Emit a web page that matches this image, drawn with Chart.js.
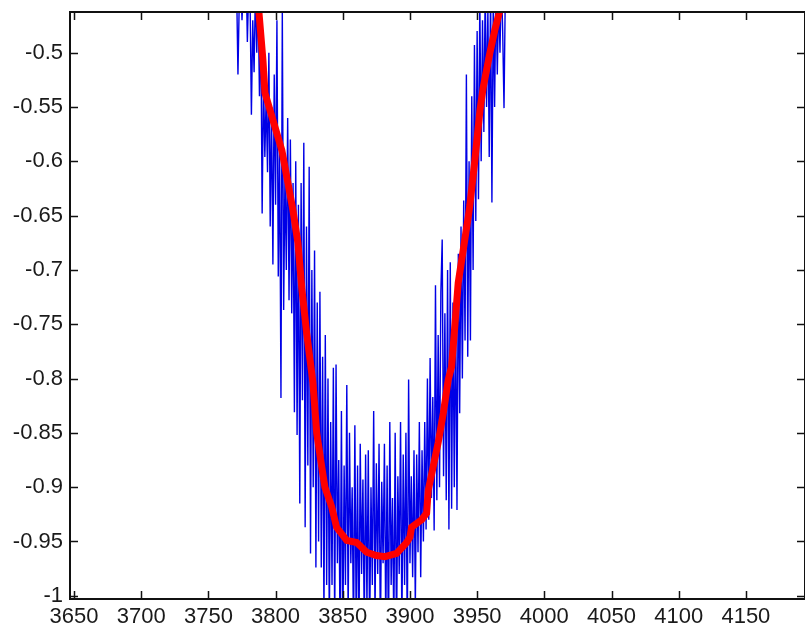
<!DOCTYPE html>
<html>
<head>
<meta charset="utf-8">
<script src="https://cdn.jsdelivr.net/npm/chart.js@4.4.1/dist/chart.umd.min.js"></script>
<style>
  body { margin: 0; background: #fff; }
  canvas { display: block; }
</style>
</head>
<body>
<canvas id="grafico" width="805" height="631"></canvas>
<script>
// noisy signal (blue), one sample per unit
const sinalX = [
  3771, 3772, 3773, 3774, 3775, 3776, 3777, 3778, 3779, 3780,
  3781, 3782, 3783, 3784, 3785, 3786, 3787, 3788, 3789, 3790,
  3791, 3792, 3793, 3794, 3795, 3796, 3797, 3798, 3799, 3800,
  3801, 3802, 3803, 3804, 3805, 3806, 3807, 3808, 3809, 3810,
  3811, 3812, 3813, 3814, 3815, 3816, 3817, 3818, 3819, 3820,
  3821, 3822, 3823, 3824, 3825, 3826, 3827, 3828, 3829, 3830,
  3831, 3832, 3833, 3834, 3835, 3836, 3837, 3838, 3839, 3840,
  3841, 3842, 3843, 3844, 3845, 3846, 3847, 3848, 3849, 3850,
  3851, 3852, 3853, 3854, 3855, 3856, 3857, 3858, 3859, 3860,
  3861, 3862, 3863, 3864, 3865, 3866, 3867, 3868, 3869, 3870,
  3871, 3872, 3873, 3874, 3875, 3876, 3877, 3878, 3879, 3880,
  3881, 3882, 3883, 3884, 3885, 3886, 3887, 3888, 3889, 3890,
  3891, 3892, 3893, 3894, 3895, 3896, 3897, 3898, 3899, 3900,
  3901, 3902, 3903, 3904, 3905, 3906, 3907, 3908, 3909, 3910,
  3911, 3912, 3913, 3914, 3915, 3916, 3917, 3918, 3919, 3920,
  3921, 3922, 3923, 3924, 3925, 3926, 3927, 3928, 3929, 3930,
  3931, 3932, 3933, 3934, 3935, 3936, 3937, 3938, 3939, 3940,
  3941, 3942, 3943, 3944, 3945, 3946, 3947, 3948, 3949, 3950,
  3951, 3952, 3953, 3954, 3955, 3956, 3957, 3958, 3959, 3960,
  3961, 3962, 3963, 3964, 3965, 3966, 3967, 3968, 3969, 3970,
  3971, 3972
];
const sinalY = [
  -0.44, -0.52, -0.45, -0.43, -0.47, -0.44, -0.46, -0.42, -0.49, -0.44,
  -0.45, -0.557, -0.47, -0.518, -0.44, -0.50, -0.45, -0.54, -0.47, -0.648,
  -0.52, -0.596, -0.54, -0.61, -0.50, -0.66, -0.55, -0.695, -0.52, -0.64,
  -0.47, -0.706, -0.58, -0.818, -0.46, -0.737, -0.61, -0.70, -0.56, -0.728,
  -0.58, -0.74, -0.62, -0.831, -0.60, -0.852, -0.64, -0.915, -0.62, -0.82,
  -0.583, -0.937, -0.66, -0.88, -0.605, -0.961, -0.70, -0.90, -0.682, -0.974,
  -0.73, -0.95, -0.72, -0.974, -0.78, -1.02, -0.76, -0.99, -0.80, -1.03,
  -0.84, -0.99, -0.79, -1.03, -0.787, -0.97, -0.875, -1.04, -0.83, -1.05,
  -0.88, -0.99, -0.806, -1.02, -0.85, -0.97, -0.90, -1.04, -0.843, -1.03,
  -0.88, -1.05, -0.86, -0.98, -0.893, -1.03, -0.87, -1.01, -0.866, -1.04,
  -0.90, -0.99, -0.83, -1.02, -0.878, -0.98, -0.86, -1.04, -0.895, -0.97,
  -0.86, -1.03, -0.88, -1.05, -0.84, -0.99, -0.91, -1.03, -0.85, -1.04,
  -0.89, -0.98, -0.84, -1.03, -0.87, -0.99, -0.85, -1.04, -0.801, -0.97,
  -0.89, -0.983, -0.866, -1.01, -0.87, -0.96, -0.84, -0.983, -0.866, -0.95,
  -0.84, -0.939, -0.80, -0.93, -0.781, -0.91, -0.817, -0.94, -0.714, -0.912,
  -0.76, -0.90, -0.72, -0.672, -0.89, -0.74, -0.912, -0.70, -0.939, -0.693,
  -0.92, -0.73, -0.90, -0.728, -0.921, -0.685, -0.832, -0.66, -0.80, -0.636,
  -0.765, -0.52, -0.78, -0.60, -0.765, -0.54, -0.70, -0.493, -0.655, -0.48,
  -0.635, -0.45, -0.60, -0.47, -0.573, -0.44, -0.55, -0.46, -0.596, -0.44,
  -0.638, -0.45, -0.55, -0.44, -0.52, -0.45, -0.50, -0.43, -0.48, -0.551,
  -0.44, -0.43
];

// smoothed signal (red)
const suaveX = [
  3784, 3787.6, 3790.6, 3792.1, 3798, 3804.7, 3809.2, 3812.9, 3816.6, 3819.5,
  3823.1, 3827.8, 3830.6, 3834.3, 3836.7, 3841.7, 3845.4, 3852.9, 3860.3, 3867.8,
  3875, 3881.4, 3890.1, 3897.5, 3900, 3901.2, 3908.7, 3912.4, 3913.6, 3917.3,
  3921, 3924.8, 3928.5, 3931, 3933.5, 3935.9, 3939.6, 3943.4, 3944.6, 3948.3,
  3952.1, 3954.5, 3959.5, 3963.2, 3966.9, 3970
];
const suaveY = [
  -0.42, -0.4625, -0.507, -0.537, -0.562, -0.590, -0.620, -0.645, -0.675, -0.717,
  -0.758, -0.804, -0.850, -0.881, -0.900, -0.918, -0.937, -0.949, -0.951, -0.960,
  -0.963, -0.964, -0.961, -0.951, -0.946, -0.937, -0.930, -0.924, -0.903, -0.881,
  -0.859, -0.832, -0.801, -0.789, -0.750, -0.712, -0.682, -0.651, -0.640, -0.599,
  -0.553, -0.532, -0.500, -0.479, -0.461, -0.43
];

const ticksX = [3650, 3700, 3750, 3800, 3850, 3900, 3950, 4000, 4050, 4100, 4150];
const ticksY = [-1, -0.95, -0.9, -0.85, -0.8, -0.75, -0.7, -0.65, -0.6, -0.55, -0.5];

function juntaPontos(xs, ys) {
  return xs.map((x, i) => ({ x: x, y: ys[i] }));
}

// caixa preta e marcas para dentro, estilo matlab
const caixaPlugin = {
  id: 'caixa',
  afterDraw(chart) {
    const ctx = chart.ctx;
    const a = chart.chartArea;
    const sx = chart.scales.x;
    const sy = chart.scales.y;
    const tam = 8;
    ctx.save();
    ctx.strokeStyle = '#111';
    ctx.lineWidth = 2;
    ctx.strokeRect(a.left, a.top, a.right - a.left, a.bottom - a.top);
    ctx.lineWidth = 1.5;
    ctx.beginPath();
    sx.ticks.forEach((t) => {
      const px = Math.round(sx.getPixelForValue(t.value)) + 0.5;
      ctx.moveTo(px, a.bottom);
      ctx.lineTo(px, a.bottom - tam);
      ctx.moveTo(px, a.top);
      ctx.lineTo(px, a.top + tam);
    });
    sy.ticks.forEach((t) => {
      const py = Math.round(sy.getPixelForValue(t.value)) + 0.5;
      ctx.moveTo(a.left, py);
      ctx.lineTo(a.left + tam, py);
      ctx.moveTo(a.right, py);
      ctx.lineTo(a.right - tam, py);
    });
    ctx.stroke();
    ctx.restore();
  },
};

const fonte = { family: '"Liberation Sans", Arial, sans-serif', size: 22 };

new Chart(document.getElementById('grafico'), {
  type: 'line',
  data: {
    datasets: [
      {
        label: 'suave',
        data: juntaPontos(suaveX, suaveY),
        borderColor: '#ff0000',
        borderWidth: 7,
        pointRadius: 0,
        tension: 0,
        clip: 0,
      },
      {
        label: 'sinal',
        data: juntaPontos(sinalX, sinalY),
        borderColor: '#0000e6',
        borderWidth: 1.4,
        pointRadius: 0,
        tension: 0,
        clip: 0,
      },
    ],
  },
  options: {
    responsive: false,
    animation: false,
    layout: { padding: { top: 12, right: 0, left: 0, bottom: 0 } },
    plugins: {
      legend: { display: false },
      tooltip: { enabled: false },
    },
    scales: {
      x: {
        type: 'linear',
        min: 3647,
        max: 4194,
        grid: { display: false, drawTicks: false },
        border: { display: false },
        afterBuildTicks: (scale) => {
          scale.ticks = ticksX.map((v) => ({ value: v }));
        },
        afterFit: (scale) => {
          scale.height = 32;
          scale.paddingLeft = 0;
          scale.paddingRight = 0;
        },
        ticks: {
          color: '#1a1a1a',
          font: fonte,
          padding: 5,
          maxRotation: 0,
          autoSkip: false,
          callback: (v) => String(v),
        },
      },
      y: {
        type: 'linear',
        min: -1.003,
        max: -0.4625,
        grid: { display: false, drawTicks: false },
        border: { display: false },
        afterBuildTicks: (scale) => {
          scale.ticks = ticksY.map((v) => ({ value: v }));
        },
        afterFit: (scale) => {
          scale.width = 70;
          scale.paddingTop = 0;
          scale.paddingBottom = 0;
        },
        ticks: {
          color: '#1a1a1a',
          font: fonte,
          padding: 7,
          autoSkip: false,
          callback: (v) => String(v),
        },
      },
    },
  },
  plugins: [caixaPlugin],
});
</script>
</body>
</html>
